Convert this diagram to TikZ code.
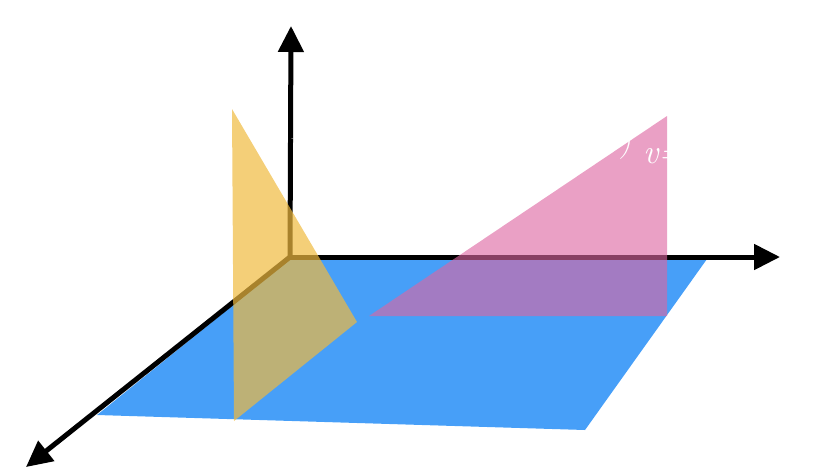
\documentclass[tikz,border=0pt]{standalone}
\usetikzlibrary{arrows.meta}
\definecolor{planeblue}{RGB}{71,159,248}
\definecolor{planeyellow}{RGB}{240,186,63}
\definecolor{planepink}{RGB}{221,102,161}
\tikzset{
  axis/.style={line width=5pt,-{Triangle[length=26pt,width=25pt]}},
  ghost/.style={text=white,inner sep=0pt,font=\fontsize{34}{34}\selectfont\itshape}
}
\begin{document}
\begin{tikzpicture}[x=1pt,y=-1pt]
\useasboundingbox (0,0) rectangle (818,472);
% base plane
\fill[planeblue] (97,415) -- (290,259) -- (707,259) -- (585,430) -- cycle;
% axes
\coordinate (O) at (290,257);
\coordinate (Z) at (291,26);
\coordinate (X) at (780,257);
\coordinate (Y) at (26,467);
\draw[axis] (O) -- (Z);
\draw[axis] (O) -- (X);
\draw[axis] (O) -- (Y);
% yellow plane
\fill[planeyellow,opacity=0.7] (232,109) -- (357,322) -- (234,421) -- cycle;
% pink plane
\fill[planepink,opacity=0.62] (369,316) -- (667,116) -- (667,316) -- cycle;
% white labels
\node[ghost,anchor=base west] (lv) at (643,163) {v=};
\node[ghost,anchor=base east,font=\fontsize{28}{28}\selectfont\itshape] (lp) at (631,152) {)};
\node[text=white,inner sep=0pt,font=\fontsize{6}{6}\selectfont] (lm) at (292.5,140) {-};
\end{tikzpicture}
\end{document}
